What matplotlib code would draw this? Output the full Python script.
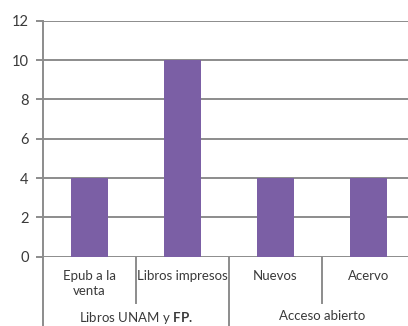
import matplotlib
matplotlib.use("Agg")
import matplotlib.pyplot as plt
from matplotlib.transforms import blended_transform_factory

categories = ["Epub a la\nventa", "Libros impresos", "Nuevos", "Acervo"]
values = [4, 10, 4, 4]
groups = ["Libros UNAM y $\\mathbf{FP.}$", "Acceso abierto"]
group_sizes = [2, 2]
y_ticks = [0, 2, 4, 6, 8, 10, 12]

bar_color = "#7B5FA5"
line_color = "#8c8c8c"
text_color = "#3a3a3a"

plt.rcParams["font.family"] = ["Lato", "DejaVu Sans"]
plt.rcParams["mathtext.fontset"] = "custom"
plt.rcParams["mathtext.rm"] = "Lato"
plt.rcParams["mathtext.bf"] = "Lato:bold"

fig = plt.figure(figsize=(4.08, 3.26), dpi=100)
ax = fig.add_axes([0.1046, 0.2126, 0.912, 0.724])

x = list(range(len(categories)))
ax.bar(x, values, width=0.4, color=bar_color, zorder=3)

ax.set_xlim(-0.5, len(categories) - 0.5)
ax.set_ylim(0, 12)
ax.set_yticks(y_ticks)
ax.set_yticklabels([str(v) for v in y_ticks], fontsize=10.5, color=text_color)
ax.yaxis.grid(True, color=line_color, linewidth=1.4, zorder=1)
ax.tick_params(axis="y", length=5, width=1.4, color=line_color, pad=5)
ax.set_xticks([])

for side in ["top", "right", "bottom"]:
    ax.spines[side].set_visible(False)
ax.spines["left"].set_color(line_color)
ax.spines["left"].set_linewidth(1.4)

trans = blended_transform_factory(ax.transData, ax.transAxes)
ax_h_px = 0.724 * 326

def yfrac(px):
    return -px / ax_h_px

# category labels
for i, lab in enumerate(categories):
    ax.text(i, yfrac(13), lab, transform=trans, ha="center", va="top",
            fontsize=9.5, color=text_color, linespacing=1.3)

# separators between categories within a group, and between groups
pos = -0.5
for gi, size in enumerate(group_sizes):
    for k in range(1, size):
        xs = pos + k
        ax.plot([xs, xs], [0, yfrac(46)], transform=trans, color=line_color,
                linewidth=1.4, clip_on=False)
    pos += size
    if gi < len(group_sizes) - 1:
        ax.plot([pos, pos], [0, yfrac(80)], transform=trans, color=line_color,
                linewidth=1.4, clip_on=False)

# left axis line continues through the label rows
ax.plot([-0.5, -0.5], [0, yfrac(80)], transform=trans, color=line_color,
        linewidth=1.4, clip_on=False)

# group labels
pos = -0.5
for g, size in zip(groups, group_sizes):
    center = pos + size / 2
    ax.text(center, yfrac(53), g, transform=trans, ha="center", va="top",
            fontsize=9.5, color=text_color)
    pos += size

fig.savefig("out.png", dpi=100)
